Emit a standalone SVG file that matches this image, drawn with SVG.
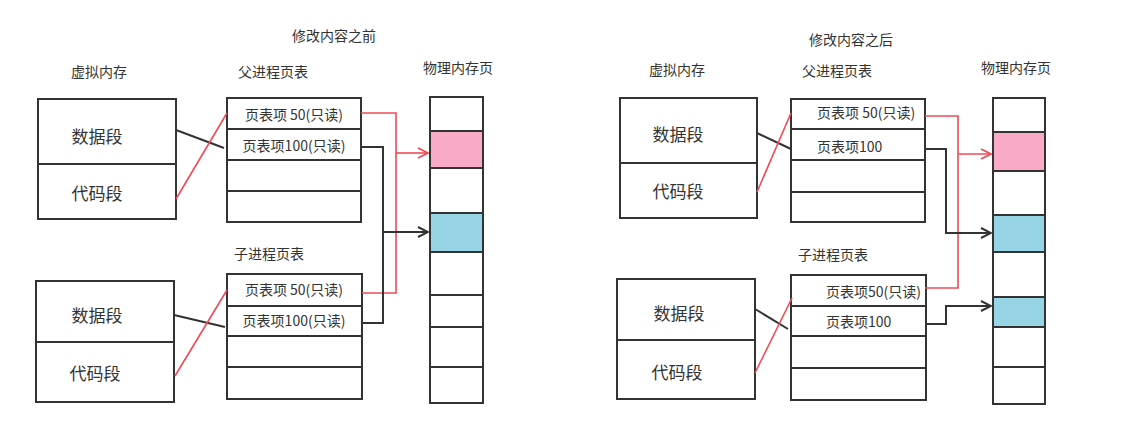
<svg xmlns="http://www.w3.org/2000/svg" width="1122" height="438" viewBox="0 0 1122 438">
<style>
text{font-family:"Noto Sans CJK SC","Noto Sans",sans-serif;fill:#333;}
.t{font-size:14px;}
.seg{font-size:17px;text-anchor:middle;}
.e{font-size:14px;}
.m{text-anchor:middle;}
.box{fill:#fff;stroke:#333;stroke-width:2;}
.div{stroke:#333;stroke-width:2;}
.blk{fill:none;stroke:#333;stroke-width:2;}
.red{fill:none;stroke:#ee4b55;stroke-width:1.6;}
.pink{fill:#f9aac6;}
.blue{fill:#97d4e6;}
</style>
<defs>
<marker id="ab" viewBox="0 0 12 12" refX="11" refY="6" markerWidth="12" markerHeight="12" markerUnits="userSpaceOnUse" orient="auto"><path d="M1,1 L11,6 L1,11" fill="none" stroke="#333" stroke-width="2"/></marker>
<marker id="ar" viewBox="0 0 12 12" refX="11" refY="6" markerWidth="12" markerHeight="12" markerUnits="userSpaceOnUse" orient="auto"><path d="M1,1 L11,6 L1,11" fill="none" stroke="#ee4b55" stroke-width="1.8"/></marker>
</defs>
<rect width="1122" height="438" fill="#fff"/>

<g id="titles">
<text class="t m" x="334" y="41">修改内容之前</text>
<text class="t m" x="851" y="45">修改内容之后</text>
<text class="t m" x="99" y="77">虚拟内存</text>
<text class="t m" x="273" y="77">父进程页表</text>
<text class="t m" x="458" y="73">物理内存页</text>
<text class="t m" x="269" y="259">子进程页表</text>
<text class="t m" x="677" y="75">虚拟内存</text>
<text class="t m" x="837" y="76">父进程页表</text>
<text class="t m" x="1016" y="73">物理内存页</text>
<text class="t m" x="833" y="260">子进程页表</text>
</g>

<!-- LEFT -->
<g id="L-vm-parent">
<rect class="box" x="38" y="99" width="138" height="120"/>
<line class="div" x1="38" y1="164" x2="176" y2="164"/>
<text class="seg" x="97" y="143">数据段</text>
<text class="seg" x="97" y="200">代码段</text>
</g>
<g id="L-pt-parent">
<rect class="box" x="227" y="98" width="134" height="124"/>
<line class="div" x1="227" y1="129" x2="361" y2="129"/>
<line class="div" x1="227" y1="160" x2="361" y2="160"/>
<line class="div" x1="227" y1="191" x2="361" y2="191"/>
<text class="e m" x="294" y="120">页表项 50(只读)</text>
<text class="e m" x="294" y="151">页表项100(只读)</text>
</g>
<g id="L-phys">
<rect class="box" x="430" y="97" width="53" height="306"/>
<rect class="pink" x="431" y="131" width="51" height="37"/>
<rect class="blue" x="431" y="213" width="51" height="39"/>
<line class="div" x1="430" y1="131" x2="483" y2="131"/>
<line class="div" x1="430" y1="168" x2="483" y2="168"/>
<line class="div" x1="430" y1="213" x2="483" y2="213"/>
<line class="div" x1="430" y1="252" x2="483" y2="252"/>
<line class="div" x1="430" y1="295" x2="483" y2="295"/>
<line class="div" x1="430" y1="327" x2="483" y2="327"/>
<line class="div" x1="430" y1="367" x2="483" y2="367"/>
</g>
<g id="L-vm-child">
<rect class="box" x="36" y="281" width="138" height="121"/>
<line class="div" x1="36" y1="342" x2="174" y2="342"/>
<text class="seg" x="97" y="322">数据段</text>
<text class="seg" x="95" y="380">代码段</text>
</g>
<g id="L-pt-child">
<rect class="box" x="227" y="274" width="135" height="125"/>
<line class="div" x1="227" y1="306" x2="362" y2="306"/>
<line class="div" x1="227" y1="336" x2="362" y2="336"/>
<line class="div" x1="227" y1="367" x2="362" y2="367"/>
<text class="e m" x="294" y="295">页表项 50(只读)</text>
<text class="e m" x="294" y="326">页表项100(只读)</text>
</g>

<!-- RIGHT -->
<g id="R-vm-parent">
<rect class="box" x="620" y="98" width="137" height="120"/>
<line class="div" x1="620" y1="163" x2="757" y2="163"/>
<text class="seg" x="678" y="141">数据段</text>
<text class="seg" x="678" y="198">代码段</text>
</g>
<g id="R-pt-parent">
<rect class="box" x="791" y="99" width="134" height="123"/>
<line class="div" x1="791" y1="129" x2="925" y2="129"/>
<line class="div" x1="791" y1="160" x2="925" y2="160"/>
<line class="div" x1="791" y1="192" x2="925" y2="192"/>
<text class="e" x="817" y="118">页表项 50(只读)</text>
<text class="e" x="817" y="152">页表项100</text>
</g>
<g id="R-phys">
<rect class="box" x="993" y="98" width="52" height="306"/>
<rect class="pink" x="994" y="132" width="50" height="39"/>
<rect class="blue" x="994" y="215" width="50" height="37"/>
<rect class="blue" x="994" y="297" width="50" height="30"/>
<line class="div" x1="993" y1="132" x2="1045" y2="132"/>
<line class="div" x1="993" y1="171" x2="1045" y2="171"/>
<line class="div" x1="993" y1="215" x2="1045" y2="215"/>
<line class="div" x1="993" y1="252" x2="1045" y2="252"/>
<line class="div" x1="993" y1="297" x2="1045" y2="297"/>
<line class="div" x1="993" y1="327" x2="1045" y2="327"/>
<line class="div" x1="993" y1="367" x2="1045" y2="367"/>
</g>
<g id="R-vm-child">
<rect class="box" x="617" y="279" width="138" height="120"/>
<line class="div" x1="617" y1="340" x2="755" y2="340"/>
<text class="seg" x="679" y="320">数据段</text>
<text class="seg" x="677" y="379">代码段</text>
</g>
<g id="R-pt-child">
<rect class="box" x="791" y="275" width="135" height="125"/>
<line class="div" x1="791" y1="306" x2="926" y2="306"/>
<line class="div" x1="791" y1="336" x2="926" y2="336"/>
<line class="div" x1="791" y1="368" x2="926" y2="368"/>
<text class="e" x="826" y="297">页表项50(只读)</text>
<text class="e" x="826" y="327">页表项100</text>
</g>

<g id="connectors">
<!-- left -->
<line class="blk" x1="176" y1="130" x2="224" y2="148"/>
<line class="red" x1="176" y1="199" x2="227" y2="113"/>
<line class="blk" x1="174" y1="315" x2="225" y2="327"/>
<line class="red" x1="175" y1="376" x2="227" y2="290"/>
<polyline class="red" points="361,113 396,113 396,293 362,293"/>
<line class="red" x1="396" y1="153" x2="428" y2="153" marker-end="url(#ar)"/>
<polyline class="blk" points="361,147 383,147 383,323 362,323"/>
<line class="blk" x1="383" y1="232" x2="428" y2="232" marker-end="url(#ab)"/>
<!-- right -->
<line class="blk" x1="757" y1="133" x2="791" y2="149"/>
<line class="red" x1="757" y1="192" x2="791" y2="113"/>
<line class="blk" x1="755" y1="309" x2="788" y2="329"/>
<line class="red" x1="755" y1="373" x2="792" y2="298"/>
<polyline class="red" points="925,116 958,116 958,288 925,288"/>
<line class="red" x1="958" y1="154" x2="991" y2="154" marker-end="url(#ar)"/>
<polyline class="blk" points="925,149 946,149 946,233 991,233" marker-end="url(#ab)"/>
<polyline class="blk" points="926,324 946,324 946,306 991,306" marker-end="url(#ab)"/>
</g>
</svg>
